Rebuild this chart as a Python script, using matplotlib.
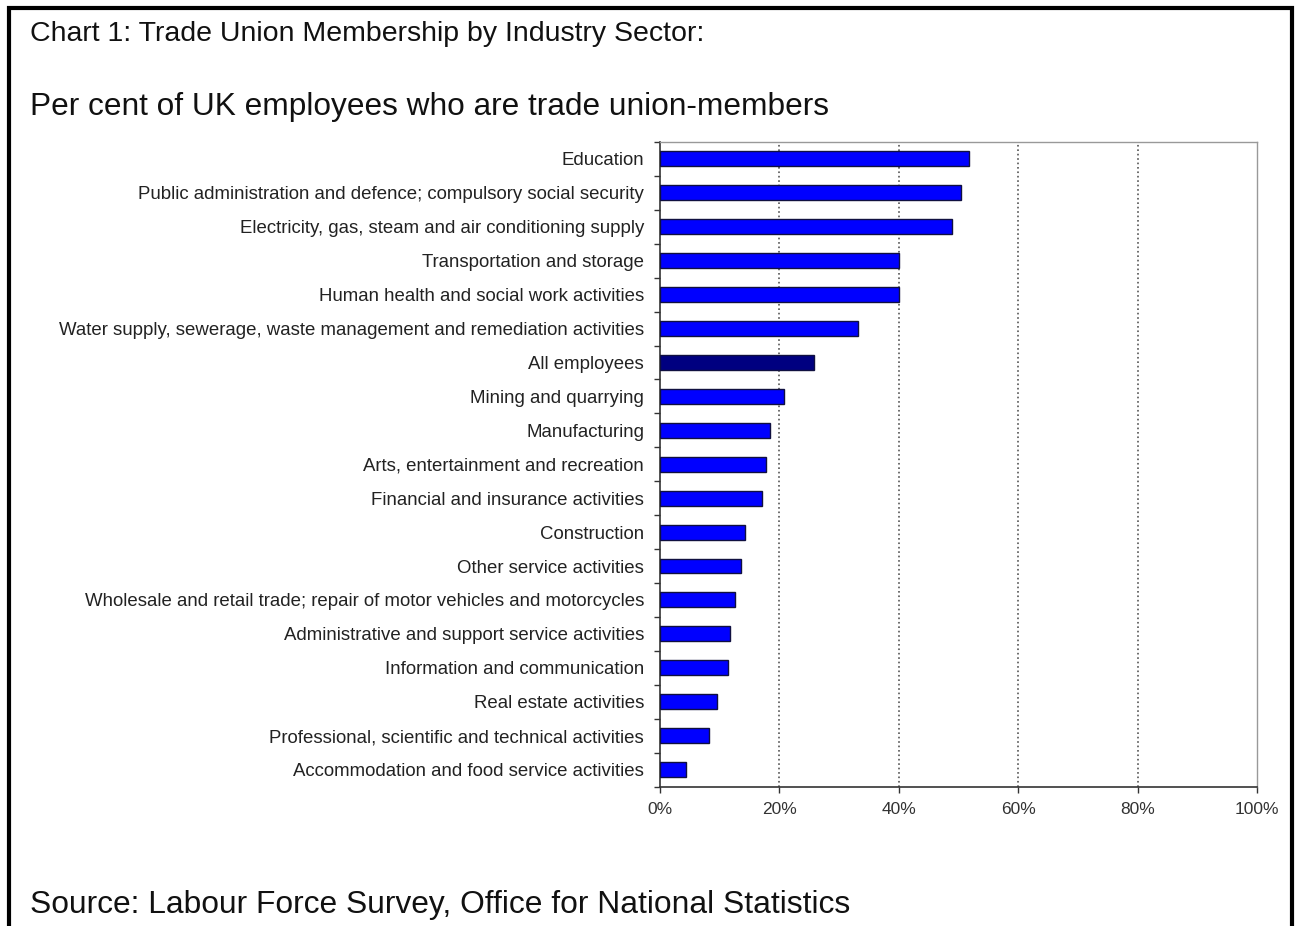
import matplotlib.pyplot as plt
from matplotlib.patches import Rectangle
from matplotlib.ticker import FixedLocator, NullFormatter

plt.rcParams['font.family'] = ['Liberation Sans', 'DejaVu Sans']

sectors = [
    'Education',
    'Public administration and defence; compulsory social security',
    'Electricity, gas, steam and air conditioning supply',
    'Transportation and storage',
    'Human health and social work activities',
    'Water supply, sewerage, waste management and remediation activities',
    'All employees',
    'Mining and quarrying',
    'Manufacturing',
    'Arts, entertainment and recreation',
    'Financial and insurance activities',
    'Construction',
    'Other service activities',
    'Wholesale and retail trade; repair of motor vehicles and motorcycles',
    'Administrative and support service activities',
    'Information and communication',
    'Real estate activities',
    'Professional, scientific and technical activities',
    'Accommodation and food service activities',
]
membership = [51.8, 50.4, 48.9, 40.1, 40.0, 33.2, 25.8, 20.8, 18.4, 17.8,
              17.1, 14.3, 13.6, 12.5, 11.8, 11.4, 9.5, 8.2, 4.4]
x_ticks = [0, 20, 40, 60, 80, 100]

fig = plt.figure(figsize=(13.01, 9.26), dpi=100)
ax = fig.add_axes([660 / 1301, 1 - 786.5 / 926, 597 / 1301, 644.5 / 926])

colors = ['#000080' if s == 'All employees' else '#0000ff' for s in sectors]
pos = list(range(len(sectors)))
ax.barh(pos, membership, height=0.44, color=colors, edgecolor='#101040',
        linewidth=1.0, zorder=3)

ax.set_xlim(0, 100)
ax.set_ylim(len(sectors) - 0.5, -0.5)
ax.set_xticks(x_ticks)
ax.set_xticklabels(['%d%%' % t for t in x_ticks], fontsize=12.5, color='#333333')
ax.set_yticks(pos)
ax.set_yticklabels(sectors, fontsize=13.4, color='#222222')
ax.tick_params(axis='y', length=0, pad=11.5)
ax.yaxis.set_minor_locator(FixedLocator([i + 0.5 for i in range(-1, len(sectors))]))
ax.yaxis.set_minor_formatter(NullFormatter())
ax.tick_params(axis='y', which='minor', length=4, width=1, color='#333333')
ax.tick_params(axis='x', length=4, width=1, color='#333333', pad=7)

for t in x_ticks[1:-1]:
    ax.axvline(t, color='#555555', linestyle=':', linewidth=1.2, zorder=1)

for side in ['left', 'bottom']:
    ax.spines[side].set_color('#333333')
    ax.spines[side].set_linewidth(1.2)
for side in ['top', 'right']:
    ax.spines[side].set_color('#999999')
    ax.spines[side].set_linewidth(1.0)

fig.text(30 / 1301, 1 - 34 / 926, 'Chart 1: Trade Union Membership by Industry Sector:',
         fontsize=20.5, va='center', ha='left', color='#111111')
fig.text(30 / 1301, 1 - 107 / 926, 'Per cent of UK employees who are trade union-members',
         fontsize=22.8, va='center', ha='left', color='#111111')
fig.text(30 / 1301, 1 - 905 / 926, 'Source: Labour Force Survey, Office for National Statistics',
         fontsize=22.9, va='center', ha='left', color='#111111')

fig.patches.append(Rectangle((9 / 1301, -0.05), 1283 / 1301, 1.05 - 8 / 926,
                             transform=fig.transFigure, fill=False,
                             edgecolor='black', linewidth=3))

fig.savefig('out.png', dpi=100)
